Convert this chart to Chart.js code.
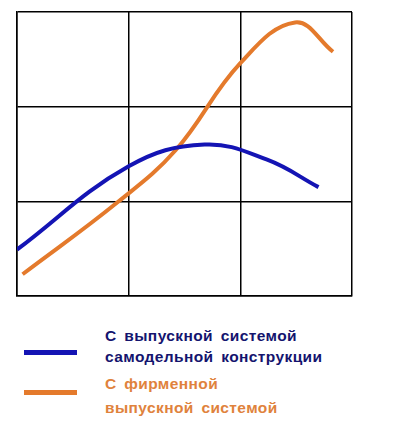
<!DOCTYPE html>
<html>
<head>
<meta charset="utf-8">
<script src="https://cdn.jsdelivr.net/npm/chart.js@4"></script>
<style>
  body { margin: 0; background: #fff; font-family: "Liberation Sans", Arial, sans-serif; }
  #wrap { position: relative; width: 393px; height: 440px; }
  #chartBox { position: absolute; left: 0; top: 0; width: 393px; height: 300px; }
  .leg-line { position: absolute; left: 24px; width: 53px; height: 5px; }
  .leg-text { position: absolute; left: 105px; font-weight: bold; font-size: 15.5px; letter-spacing: 0.4px; word-spacing: 3px; white-space: nowrap; }
</style>
</head>
<body>
<div id="wrap">
  <div id="chartBox"><canvas id="chart"></canvas></div>
  <div class="leg-line" style="top:350px;background:#1414b4;"></div>
  <div class="leg-text" style="top:325px;line-height:21px;color:#14146e;">С выпускной системой<br>самодельной конструкции</div>
  <div class="leg-line" style="top:390px;background:#e47a2c;"></div>
  <div class="leg-text" style="top:372px;line-height:24px;color:#e0823c;">С фирменной<br>выпускной системой</div>
</div>
<script>
// values (grid units 0..3)
const seriesNames = ["С выпускной системой самодельной конструкции", "С фирменной выпускной системой"];
const blueX = [0, 1.0, 1.68, 2.24, 2.7];
const blueY = [0.49, 1.37, 1.6, 1.44, 1.15];
const orangeX = [0.05, 0.9, 1.42, 2.0, 2.49, 2.83];
const orangeY = [0.23, 0.99, 1.54, 2.46, 2.89, 2.58];
const gridTicks = [0, 1, 2, 3];

function toPoints(xs, ys) {
  return xs.map((x, i) => ({ x: x, y: ys[i] }));
}

const axis = {
  type: "linear",
  min: gridTicks[0],
  max: gridTicks[gridTicks.length - 1],
  ticks: { display: false, stepSize: 1 },
  grid: { color: "#000", lineWidth: 1.5, drawTicks: false },
  border: { color: "#000", width: 1.5 },
};

new Chart(document.getElementById("chart").getContext("2d"), {
  type: "scatter",
  data: {
    datasets: [
      {
        label: seriesNames[0],
        data: toPoints(blueX, blueY),
        showLine: true,
        borderColor: "#1414b4",
        borderWidth: 4,
        pointRadius: 0,
        tension: 0.4,
      },
      {
        label: seriesNames[1],
        data: toPoints(orangeX, orangeY),
        showLine: true,
        borderColor: "#e47a2c",
        borderWidth: 4,
        pointRadius: 0,
        tension: 0.4,
      },
    ],
  },
  options: {
    responsive: true,
    maintainAspectRatio: false,
    animation: false,
    layout: { padding: { left: 17, top: 12, right: 41, bottom: 4 } },
    plugins: { legend: { display: false }, tooltip: { enabled: false } },
    scales: { x: axis, y: axis },
  },
});
</script>
</body>
</html>
